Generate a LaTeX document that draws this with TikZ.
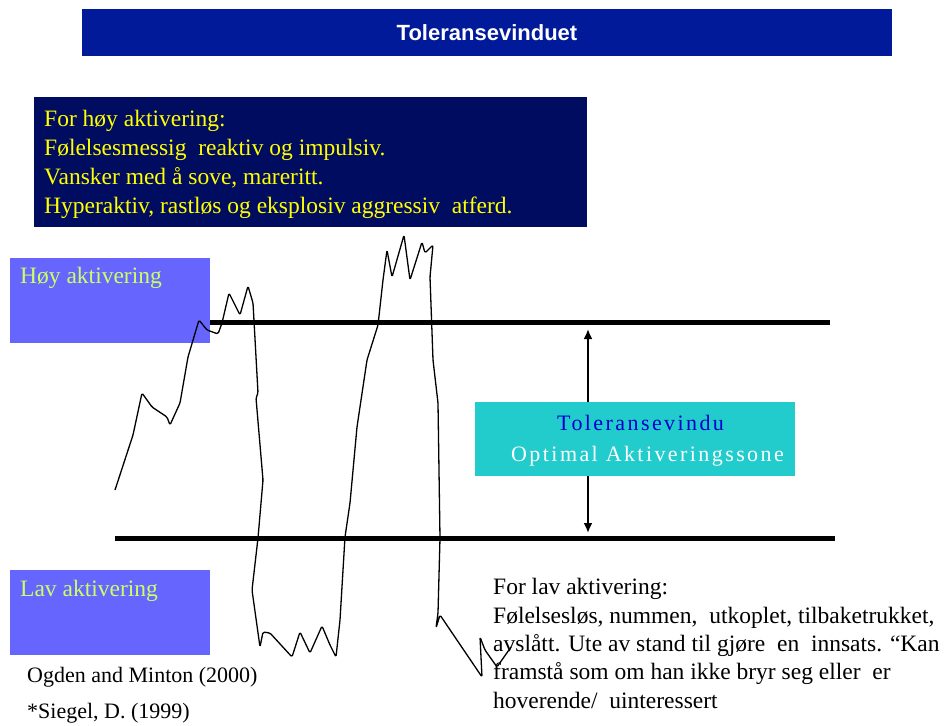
\documentclass[tikz,border=0pt]{standalone}
\usepackage{fontspec}
\usetikzlibrary{arrows.meta}
\setmainfont{Liberation Serif}
\newfontfamily\headfont{Liberation Sans}
\newfontfamily\widefont[LetterSpace=11]{Liberation Serif}
\definecolor{headblue}{RGB}{0,26,153}
\definecolor{navybox}{RGB}{0,12,96}
\definecolor{levelblue}{RGB}{102,102,255}
\definecolor{levelgreen}{RGB}{204,255,102}
\definecolor{zonecyan}{RGB}{34,204,204}
\definecolor{zoneblue}{RGB}{0,0,204}
\definecolor{hotyellow}{RGB}{255,255,0}
\tikzset{
  boxed/.style={inner sep=0pt, draw=none},
  txt/.style={inner sep=0pt, anchor=base west, align=left,
    font=\fontsize{23.5}{29}\selectfont},
  level/.style={line width=5pt},
  wave/.style={line width=1.3pt, line join=round, rounded corners=1.5pt},
  span/.style={line width=2pt, -{Latex[length=10pt, width=9pt]}},
}
\begin{document}
\begin{tikzpicture}[x=1pt, y=-1pt]
    \useasboundingbox (0,0) rectangle (946,726);
    % heading
    \node [boxed, fill=headblue, minimum width=810pt, minimum height=47pt] (0) at (487,32.5) {};
    \node [inner sep=0pt, text=white, font=\headfont\bfseries\fontsize{22}{22}\selectfont] (1) at (0.center) {Toleransevinduet};

    % boxes
    \node [boxed, fill=navybox, minimum width=553pt, minimum height=130pt] (2) at (310.5,162) {};
    \node [txt, text=hotyellow] (3) at (44,213) {For høy aktivering:\\
      Følelsesmessig\ \ reaktiv og impulsiv.\\
      Vansker med å sove, mareritt.\\
      Hyperaktiv, rastløs og eksplosiv aggressiv\ \ atferd.};
    \node [boxed, fill=levelblue, minimum width=200pt, minimum height=85pt] (4) at (110,300.5) {};
    \node [txt, text=levelgreen] (5) at (20,283) {Høy aktivering};
    \node [boxed, fill=levelblue, minimum width=200pt, minimum height=85pt] (6) at (110,612.5) {};
    \node [txt, text=levelgreen] (7) at (20,596) {Lav aktivering};

    % window
    \node (8) at (210,322) {};
    \node (9) at (830,322) {};
    \node (10) at (115,538) {};
    \node (11) at (835,538) {};
    \draw [level] (8.center) to (9.center);
    \draw [level] (10.center) to (11.center);
    \node [boxed, fill=zonecyan, minimum width=320pt, minimum height=74pt] (12) at (635,439) {};
    \node [txt, text=zoneblue, font=\widefont\fontsize{22}{22}\selectfont] (13) at (557,430) {Toleransevindu};
    \node [txt, text=white, font=\widefont\fontsize{22}{22}\selectfont] (14) at (511,461) {Optimal\ Aktiveringssone};
    \node (15) at (588,329) {};
    \node (16) at (588,533) {};
    \draw [span] (12.north -| 15.center) to (15.center);
    \draw [span] (12.south -| 16.center) to (16.center);

    % texts at the bottom
    \node [txt, font=\fontsize{23.5}{28.3}\selectfont] (17) at (493,708) {For lav aktivering:\\
      Følelsesløs, nummen,\ \ utkoplet, tilbaketrukket,\\
      avslått. Ute av stand til gjøre\ \ en\ \ innsats. “Kan\\
      framstå som om han ikke bryr seg eller\ \ er\\
      hoverende/\ \ uinteressert};
    \node [txt, font=\fontsize{22}{22}\selectfont] (18) at (27,682) {Ogden and Minton (2000)};
    \node [txt, font=\fontsize{22}{22}\selectfont] (19) at (27,718) {*Siegel, D. (1999)};

    % arousal curve
    \draw [wave] (115,490) -- (133,435) -- (142,393) -- (152,407) -- (167,417)
      -- (170,425) -- (180,403) -- (188,357) -- (199,320) -- (207,330)
      -- (218,334) -- (222,323) -- (229,293) -- (240,315) -- (248,286)
      -- (253,303) -- (258,393) -- (256,398) -- (263,480) -- (258,538)
      -- (252,590) -- (260,647) -- (263,632) -- (270,633) -- (292,657)
      -- (300,632) -- (310,653) -- (322,626) -- (330,645) -- (336,657)
      -- (340,620) -- (345,537) -- (350,503) -- (357,427) -- (367,360)
      -- (378,325) -- (383,280) -- (387,250) -- (392,277) -- (404,235)
      -- (410,280) -- (422,242) -- (425,253) -- (433,245) -- (430,277)
      -- (433,360) -- (438,403) -- (440,538) -- (438,613) -- (436,628)
      -- (440,615) -- (482,677) -- (480,637) -- (485,650) -- (497,667)
      -- (511,647);
\end{tikzpicture}
\end{document}
